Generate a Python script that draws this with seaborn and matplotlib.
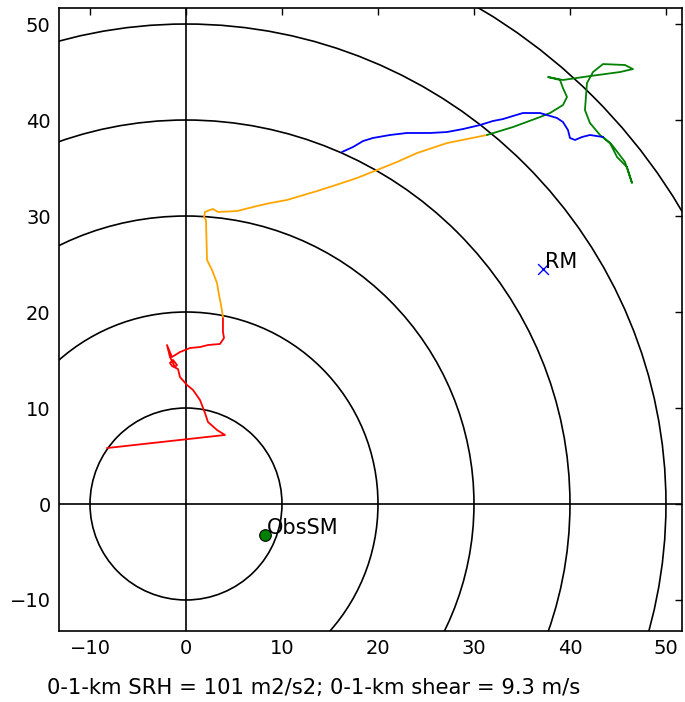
import matplotlib
matplotlib.use("Agg")
import matplotlib.pyplot as plt
import seaborn as sns
import pandas as pd
from matplotlib.patches import Circle

# ---- data (u, v in m/s) ----
red_u = [-8.23, 4.06, 3.23, 2.29, 1.98, 1.46, 0.73, 0.10, -0.63, -0.83, -1.46, -1.67, -1.35, -0.94,
         -1.15, -1.67, -1.98, -1.46, -0.63, 0.42, 1.46, 2.29, 3.54, 3.96, 3.85, 3.85]
red_v = [5.83, 7.19, 7.71, 8.54, 9.48, 10.83, 11.88, 12.40, 13.23, 14.06, 14.38, 14.69, 15.00, 14.48,
         14.27, 15.31, 16.56, 15.31, 15.83, 16.25, 16.35, 16.56, 16.67, 17.29, 17.92, 19.48]

orange_u = [3.85, 3.65, 3.44, 3.23, 2.71, 2.19, 2.08, 1.88, 1.98, 2.50, 2.81, 3.33, 5.31, 7.40, 8.75,
            10.52, 12.60, 13.65, 15.31, 17.81, 19.90, 21.98, 24.06, 27.19, 29.27, 31.35]
orange_v = [19.48, 20.73, 21.77, 23.02, 24.38, 25.42, 29.58, 29.90, 30.42, 30.63, 30.73, 30.42, 30.52,
            31.04, 31.35, 31.67, 32.29, 32.60, 33.13, 33.96, 34.79, 35.63, 36.56, 37.60, 38.02, 38.44]

green_u = [31.35, 34.06, 36.88, 37.92, 39.27, 39.69, 39.27, 38.96, 37.71, 39.27, 42.08, 45.21, 46.56,
           45.73, 43.44, 42.40, 41.77, 41.56, 42.08, 43.13, 44.17, 44.90, 45.94, 46.46, 45.73, 44.38, 43.44]
green_v = [38.44, 39.27, 40.31, 40.73, 41.56, 42.40, 43.33, 44.17, 44.48, 44.17, 44.58, 45.00, 45.31,
           45.73, 45.83, 45.00, 43.85, 41.04, 39.69, 38.44, 37.60, 36.15, 35.10, 33.44, 35.63, 37.40, 38.23]

blue_u = [43.44, 42.08, 41.25, 40.52, 40.00, 39.79, 39.27, 38.65, 37.60, 36.88, 35.10, 34.06, 33.02,
          31.98, 30.63, 28.85, 27.19, 25.42, 23.02, 21.25, 19.48, 18.44, 17.40, 16.25]
blue_v = [38.23, 38.44, 38.23, 37.92, 38.13, 38.96, 39.79, 40.21, 40.52, 40.73, 40.73, 40.42, 40.10,
          39.90, 39.48, 39.06, 38.75, 38.65, 38.65, 38.44, 38.13, 37.81, 37.19, 36.67]

ring_radii = [10, 20, 30, 40, 50, 60]
obs_sm = (8.23, -3.23)
rm = (37.19, 24.48)
ticks = [-10, 0, 10, 20, 30, 40, 50]
caption = "0-1-km SRH = 101 m2/s2; 0-1-km shear = 9.3 m/s"

# ---- plot ----
sns.set_style("white")
plt.rcParams['font.family'] = ['DejaVu Sans']
plt.rcParams['text.color'] = 'black'
fig = plt.figure(figsize=(6.85, 7.02), dpi=100)
ax = fig.add_axes([59/685, 1-631/702, 623/685, 623/702])

for r in ring_radii:
    ax.add_patch(Circle((0, 0), r, fill=False, ec='black', lw=1.2, zorder=1))
ax.axhline(0, color='black', lw=1.2, zorder=1)
ax.axvline(0, color='black', lw=1.2, zorder=1)

segments = [(red_u, red_v, 'red'), (orange_u, orange_v, 'orange'),
            (green_u, green_v, 'green'), (blue_u, blue_v, 'blue')]
for u, v, c in segments:
    df = pd.DataFrame({'u': u, 'v': v})
    sns.lineplot(data=df, x='u', y='v', sort=False, estimator=None, color=c, lw=1.3, ax=ax, zorder=3)

sns.scatterplot(x=[obs_sm[0]], y=[obs_sm[1]], color='green', edgecolor='black', s=70, ax=ax, zorder=4, linewidth=0.8)
ax.text(obs_sm[0] + 0.2, obs_sm[1] + 0.1, 'ObsSM', fontsize=15, color='black', zorder=5)
sns.scatterplot(x=[rm[0]], y=[rm[1]], color='blue', marker='x', s=60, ax=ax, zorder=4, linewidth=1.0)
ax.text(rm[0] + 0.2, rm[1] + 0.1, 'RM', fontsize=15, color='black', zorder=5)

ax.set_xlim(-13.23, 51.67)
ax.set_ylim(-13.23, 51.67)
ax.set_xticks(ticks)
ax.set_yticks(ticks)
ax.tick_params(direction='in', length=5, width=1, top=True, right=True, labelsize=14, pad=6,
               colors='black', labelcolor='black')
for s in ax.spines.values():
    s.set_color('black')
    s.set_linewidth(1.2)
ax.set_xlabel('')
ax.set_ylabel('')

fig.text(47/685, 1-694/702, caption, fontsize=15.2, color='black', ha='left', va='baseline')
fig.savefig('out.png', dpi=100)
